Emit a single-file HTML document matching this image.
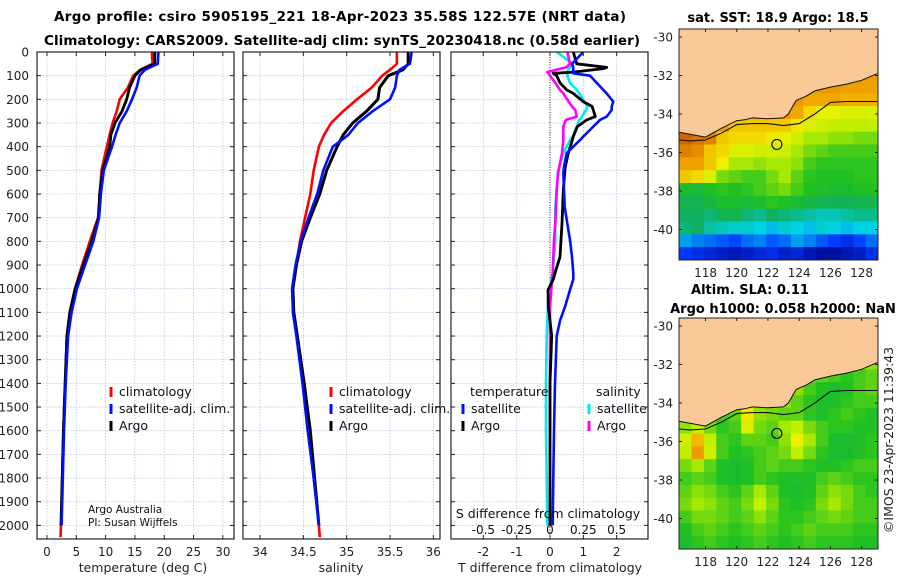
<!DOCTYPE html>
<html><head><meta charset="utf-8"><style>
body{margin:0;background:#fff;}
svg{display:block;font-family:"DejaVu Sans","Liberation Sans",sans-serif;}
</style></head><body>
<svg id="fig" width="900" height="580" viewBox="0 0 900 580" xmlns="http://www.w3.org/2000/svg">
<text x="340" y="21" font-size="13.5" font-weight="bold" text-anchor="middle" textLength="572">Argo profile: csiro 5905195_221 18-Apr-2023 35.58S 122.57E (NRT data)</text>
<text x="342" y="45" font-size="13.5" font-weight="bold" text-anchor="middle" textLength="596">Climatology: CARS2009. Satellite-adj clim: synTS_20230418.nc (0.58d earlier)</text>
<text x="778" y="22" font-size="13" font-weight="bold" text-anchor="middle">sat. SST: 18.9 Argo: 18.5</text>
<text x="750" y="294" font-size="13" font-weight="bold" text-anchor="middle">Altim. SLA: 0.11</text>
<text x="783" y="313" font-size="13" font-weight="bold" text-anchor="middle">Argo h1000: 0.058 h2000: NaN</text>
<text x="0" y="0" font-size="12.5" text-anchor="middle" transform="translate(893,440) rotate(-90)" fill="#222">©IMOS 23-Apr-2023 11:39:43</text>
<g id="plots"></g>
</svg>
<script>
// depth levels (dbar)
const depths=[0,50,75,100,150,200,250,300,350,400,500,600,700,800,900,1000,1100,1200,1400,1600,1800,2000];
const tempClim=[17.9,18.0,15.9,14.7,13.8,12.4,11.9,11.2,10.7,10.2,9.3,9.0,8.7,7.3,6.0,4.8,3.9,3.4,3.1,2.8,2.6,2.4];
const tempSat=[19.0,18.9,16.7,15.8,15.3,14.5,13.6,12.4,11.7,11.1,9.7,9.2,8.9,7.9,6.5,5.1,4.2,3.6,3.2,2.9,2.7,2.5];
const tempArgo=[18.4,18.4,16.0,15.0,14.1,13.6,12.8,11.6,10.9,10.7,9.5,9.0,8.8,7.6,6.2,4.8,3.9,3.4,3.1,2.8,2.6,2.4];
const salClim=[35.58,35.58,35.5,35.41,35.29,35.12,34.96,34.82,34.74,34.68,34.62,34.58,34.52,34.46,34.42,34.38,34.39,34.43,34.5,34.56,34.62,34.68];
const salSat=[35.75,35.73,35.61,35.58,35.56,35.5,35.3,35.13,35.02,34.84,34.73,34.66,34.56,34.47,34.41,34.37,34.38,34.42,34.49,34.55,34.62,34.68];
const salArgo=[35.71,35.71,35.65,35.48,35.38,35.36,35.23,35.07,34.96,34.89,34.77,34.69,34.58,34.48,34.42,34.38,34.39,34.43,34.51,34.58,34.63,34.68];
// difference profiles
const diffDepths=[0,50,65,70,85,90,100,130,160,175,210,230,245,273,287,315,357,372,427,485,511,583,655,724,794,866,934,960,1005,1076,1135,1200,1400,1600,1800,2000];
const dTSat=[1.0,0.66,0.7,0.7,0.7,0.7,1.2,1.4,1.6,1.7,1.9,1.85,1.85,1.7,1.5,1.3,1.0,0.9,0.5,0.42,0.4,0.42,0.44,0.52,0.6,0.66,0.7,0.7,0.6,0.45,0.3,0.2,0.15,0.12,0.1,0.08];
const dTArgo=[0.7,0.8,1.7,1.6,0.7,0.1,0.2,0.3,0.5,0.7,1.0,1.26,1.3,1.36,1.1,0.82,0.7,0.67,0.55,0.46,0.44,0.4,0.38,0.36,0.33,0.3,0.15,0.1,-0.06,-0.05,0.0,0.05,0.0,0.0,0.0,0.0];
const dSSat=[0.05,0.17,0.15,0.14,0.13,0.13,0.13,0.15,0.2,0.22,0.26,0.28,0.27,0.24,0.22,0.2,0.17,0.15,0.1,0.07,0.06,0.05,0.04,0.04,0.04,0.03,0.02,0.01,0.0,-0.015,-0.02,-0.025,-0.03,-0.03,-0.025,-0.02];
const dSArgo=[0.13,0.15,0.12,0.08,-0.02,-0.01,0.0,0.04,0.075,0.1,0.14,0.165,0.19,0.2,0.12,0.1,0.1,0.1,0.09,0.07,0.06,0.05,0.045,0.04,0.03,0.025,0.02,0.015,0.01,0.0,0.0,0.0,0.0,0.0,0.0,0.0];
const depthTicks=[0,100,200,300,400,500,600,700,800,900,1000,1100,1200,1300,1400,1500,1600,1700,1800,1900,2000];
const tempTicks=[0,5,10,15,20,25,30];
const salTicks=[34,34.5,35,35.5,36];
const salTickLabels=["34","34.5","35","35.5","36"];
const dTTicks=[-2,-1,0,1,2];
const dSTicks=[-0.5,-0.25,0,0.25,0.5];
const dSTickLabels=["-0.5","-0.25","0","0.25","0.5"];
// map grids (colour index 0..100), 16 cols x 18 rows
const sstGrid=[
[88,88,88,88,88,88,88,88,88,88,88,88,88,88,88,88],
[88,88,88,88,88,88,88,88,88,88,88,88,88,88,88,88],
[88,88,88,88,88,88,88,88,88,88,88,88,88,88,88,88],
[88,88,88,88,88,88,88,88,88,88,88,88,88,88,86,86],
[88,88,88,88,88,88,88,88,88,88,86,86,86,85,85,85],
[88,88,88,88,88,88,88,88,86,86,84,84,84,83,83,83],
[88,88,88,88,86,86,86,86,86,84,78,74,74,72,72,72],
[92,90,88,86,80,80,80,80,80,76,72,70,68,68,68,68],
[94,92,90,80,78,78,78,76,74,70,66,66,64,64,62,62],
[90,88,80,78,72,72,70,70,70,66,62,60,58,58,58,58],
[85,85,80,75,66,66,64,66,66,64,58,56,56,56,56,56],
[80,78,72,62,60,58,58,62,66,60,56,55,55,55,56,56],
[52,50,55,56,55,56,58,60,62,58,55,54,52,52,54,55],
[45,45,48,52,52,50,52,56,54,50,48,45,44,44,45,45],
[42,42,40,44,45,40,38,42,40,38,36,34,34,36,38,38],
[40,42,36,34,32,32,30,28,32,30,28,32,30,28,30,30],
[25,22,20,18,16,20,22,18,20,25,22,18,15,12,16,20],
[14,12,10,8,6,8,10,12,8,10,6,4,4,6,8,12]];
const slaGrid=[
[66,66,66,66,66,66,66,66,66,66,66,66,66,66,66,66],
[66,66,66,66,66,66,66,66,66,66,66,66,66,66,66,66],
[66,66,66,66,66,66,66,66,66,66,66,66,66,66,66,66],
[66,66,66,66,66,66,66,66,66,66,66,66,66,66,64,64],
[66,66,66,66,66,66,66,66,66,66,62,60,58,56,58,60],
[66,66,66,66,66,66,66,66,66,64,58,55,53,55,58,60],
[66,66,66,66,66,72,66,66,64,60,56,53,53,56,58,58],
[62,62,60,58,60,76,64,62,60,60,56,54,56,58,56,54],
[64,68,62,56,58,72,62,60,66,68,62,58,56,56,54,54],
[70,82,68,58,56,60,60,58,64,74,66,58,52,52,54,56],
[68,86,70,58,54,56,58,60,62,68,62,56,52,52,54,56],
[62,66,60,54,52,54,58,60,58,58,56,54,54,56,58,58],
[58,60,58,54,52,54,58,56,54,54,54,58,60,58,56,56],
[60,64,62,58,56,60,66,60,54,52,54,60,64,62,58,56],
[62,66,64,60,58,62,68,62,56,54,56,62,66,62,58,58],
[58,62,62,60,58,60,64,60,56,56,58,60,62,60,58,58],
[54,58,60,58,56,58,60,58,56,58,60,58,58,58,56,56],
[52,56,58,56,54,56,58,56,54,56,58,56,56,56,54,54]];
// coastline & shelf contour (lon, lat)
const coastLon=[116.3,117,118,119,120,120.5,121,122,123,123.3,123.8,124.5,125,126,127,128,129];
const coastLat=[-34.95,-35.05,-35.2,-34.75,-34.35,-34.3,-34.2,-34.25,-34.2,-34.0,-33.3,-33.05,-32.8,-32.6,-32.45,-32.25,-31.9];
const shelfLon=[116.3,117,118,119,120,121,122,123,124,125,126,127,128,129];
const shelfLat=[-35.35,-35.4,-35.35,-35.0,-34.55,-34.5,-34.5,-34.6,-34.5,-34.0,-33.4,-33.35,-33.35,-33.35];
const argoLon=122.57, argoLat=-35.58;
const lonTicks=[118,120,122,124,126,128];
const latTicks=[-30,-32,-34,-36,-38,-40];

const NS='http://www.w3.org/2000/svg';
const root=document.getElementById('plots');
function mk(tag,attrs,parent){const e=document.createElementNS(NS,tag);for(const k in attrs)e.setAttribute(k,attrs[k]);(parent||root).appendChild(e);return e;}
function txt(s,attrs,parent){const e=mk('text',attrs,parent);e.textContent=s;return e;}
const Y0=52, YK=0.2367, YB=539;
const yD=d=>Y0+YK*d;

function panel(name,x0,x1,dmin,dmax){
  const g=mk('g',{});
  
  
  const sx=v=>x0+(v-dmin)/(dmax-dmin)*(x1-x0);
  return {g,sx};
}
function grid(g,x0,x1,xs){
  depthTicks.forEach(d=>{const l=mk('line',{x1:x0,x2:x1,y1:yD(d),y2:yD(d),stroke:'#b8c4e8','stroke-width':0.8,'stroke-dasharray':'1.5,1.5'},g);
    
    mk('line',{x1:x0,x2:x0+4,y1:yD(d),y2:yD(d),stroke:'#222'},g);mk('line',{x1:x1-4,x2:x1,y1:yD(d),y2:yD(d),stroke:'#222'},g);});
  xs.forEach(x=>{const l=mk('line',{x1:x,x2:x,y1:Y0,y2:YB,stroke:'#b8c4e8','stroke-width':0.8,'stroke-dasharray':'1.5,1.5'},g);
    
    mk('line',{x1:x,x2:x,y1:YB,y2:YB-4,stroke:'#222'},g);mk('line',{x1:x,x2:x,y1:Y0,y2:Y0+4,stroke:'#222'},g);});
}
function frame(g,x0,x1){const r=mk('rect',{x:x0,y:Y0,width:x1-x0,height:YB-Y0,fill:'none',stroke:'#222','stroke-width':1.2},g);}
function line(g,xs,ds,sx,col,w,name){
  const pts=xs.map((v,i)=>sx(v).toFixed(1)+','+yD(ds[i]).toFixed(1)).join(' ');
  const p=mk('polyline',{points:pts,fill:'none',stroke:col,'stroke-width':w,'stroke-linejoin':'round'},g);
  
}
function legend(g,x,y,col,label,name){
  const r=mk('rect',{x:x-1.5,y:y-9,width:3,height:10,fill:col},g);
  
  const t=txt(label,{x:x+8,y:y,'font-size':12.5,fill:'#111'},g);
  
}

// Panel 1: temperature
(function(){
  const x0=37,x1=234;const P=panel('temperature-panel',x0,x1,-1.7,31.9);const g=P.g,sx=P.sx;
  grid(g,x0,x1,tempTicks.map(sx));
  line(g,tempClim,depths,sx,'#ff0000',2.6,'temp-climatology-line');
  line(g,tempArgo,depths,sx,'#000',2.8,'temp-argo-line');
  line(g,tempSat,depths,sx,'#0010ff',2.6,'temp-satellite-line');
  line(g,[tempClim[tempClim.length-1],tempClim[tempClim.length-1]-0.1],[2000,2050],sx,'#ff0000',2.6,'temp-climatology-tail');
  frame(g,x0,x1);
  depthTicks.forEach(d=>{const t=txt(String(d),{x:29,y:yD(d)+4.5,'font-size':12,'text-anchor':'end',fill:'#222'},g);});
  tempTicks.forEach(v=>{const t=txt(String(v),{x:sx(v),y:556,'font-size':12,'text-anchor':'middle',fill:'#222'},g);});
  const xl=txt('temperature (deg C)',{x:143,y:572,'font-size':12.5,'text-anchor':'middle',fill:'#222'},g);
  legend(g,111,396,'#ff0000','climatology','legend-climatology');
  legend(g,111,413,'#0010ff','satellite-adj. clim.','legend-satellite-adj');
  legend(g,111,430,'#000','Argo','legend-argo');
  const a=txt('Argo Australia',{x:88,y:513,'font-size':10.5,fill:'#111'},g);
  const b=txt('PI: Susan Wijffels',{x:88,y:526,'font-size':10.5,fill:'#111'},g);
})();

// Panel 2: salinity
(function(){
  const x0=243,x1=440;const P=panel('salinity-panel',x0,x1,33.804,36.077);const g=P.g,sx=P.sx;
  grid(g,x0,x1,salTicks.map(sx));
  line(g,salClim.concat([34.69]),depths.concat([2050]),sx,'#ff0000',2.6,'sal-climatology-line');
  line(g,salArgo,depths,sx,'#000',3,'sal-argo-line');
  line(g,salSat,depths,sx,'#0010ff',2.6,'sal-satellite-line');
  frame(g,x0,x1);
  salTicks.forEach((v,i)=>{const t=txt(salTickLabels[i],{x:sx(v),y:556,'font-size':12,'text-anchor':'middle',fill:'#222'},g);});
  const xl=txt('salinity',{x:341,y:572,'font-size':12.5,'text-anchor':'middle',fill:'#222'},g);
  legend(g,331,396,'#ff0000','climatology','legend-climatology');
  legend(g,331,413,'#0010ff','satellite-adj. clim.','legend-satellite-adj');
  legend(g,331,430,'#000','Argo','legend-argo');
})();

// Panel 3: differences
(function(){
  const x0=451,x1=648;const P=panel('difference-panel',x0,x1,-2.97,2.94);const g=P.g,sx=P.sx;
  const sxS=v=>sx(v*4);
  grid(g,x0,x1,dTTicks.map(sx));
  const z=mk('line',{x1:sx(0),x2:sx(0),y1:Y0,y2:YB,stroke:'#333','stroke-width':1,'stroke-dasharray':'1,1.5'},g);
  
  line(g,dSSat,diffDepths,sxS,'#00e8f0',2.6,'sal-diff-satellite-line');
  line(g,dSArgo.slice(0,34),diffDepths.slice(0,34),sxS,'#ff00ff',2.6,'sal-diff-argo-line');
  line(g,dTArgo,diffDepths,sx,'#000',2.8,'temp-diff-argo-line');
  line(g,dTSat,diffDepths,sx,'#0010ff',2.6,'temp-diff-satellite-line');
  frame(g,x0,x1);
  dTTicks.forEach(v=>{const t=txt(String(v),{x:sx(v),y:556,'font-size':12,'text-anchor':'middle',fill:'#222'},g);});
  dSTicks.forEach((v,i)=>{const t=txt(dSTickLabels[i],{x:sxS(v),y:534,'font-size':12,'text-anchor':'middle',fill:'#111'},g);});
  const s=txt('S difference from climatology',{x:548,y:518,'font-size':12.5,'text-anchor':'middle',fill:'#111'},g);
  const xl=txt('T difference from climatology',{x:550,y:572,'font-size':12.5,'text-anchor':'middle',fill:'#222'},g);
  const t1=txt('temperature',{x:470,y:396,'font-size':12.5,fill:'#111'},g);
  const t2=txt('salinity',{x:596,y:396,'font-size':12.5,fill:'#111'},g);
  legend(g,463,413,'#0010ff','satellite','legend-temp-satellite');
  legend(g,463,430,'#000','Argo','legend-temp-argo');
  legend(g,589,413,'#00e8f0','satellite','legend-sal-satellite');
  legend(g,589,430,'#ff00ff','Argo','legend-sal-argo');
})();

// colormap
const stops=[[0,[0,0,130]],[0.15,[0,60,255]],[0.3,[0,210,230]],[0.42,[16,176,96]],[0.55,[32,192,32]],[0.68,[192,240,0]],[0.75,[240,240,0]],[0.85,[240,160,0]],[0.95,[208,96,0]],[1,[160,32,0]]];
function cmap(v){v=Math.max(0,Math.min(1,v/100));for(let i=1;i<stops.length;i++){if(v<=stops[i][0]){const a=stops[i-1],b=stops[i];const t=(v-a[0])/(b[0]-a[0]);const c=a[1].map((x,k)=>Math.round(x+(b[1][k]-x)*t));return 'rgb('+c.join(',')+')';}}return 'rgb(160,32,0)';}

function drawMap(name,top,gridVals){
  const x0=679,x1=878,y1=top+231;
  const g=mk('g',{});
  const lon=v=>x0+(v-116.3)/(129.05-116.3)*(x1-x0);
  const lat=v=>top+8+(-30-v)*19.25;
  const rows=gridVals.length,cols=gridVals[0].length;const cw=(x1-x0)/cols,ch=(y1-top)/rows;
  gridVals.forEach((row,r)=>row.forEach((v,c)=>{const e=mk('rect',{x:(x0+c*cw).toFixed(2),y:(top+r*ch).toFixed(2),width:(cw+0.5).toFixed(2),height:(ch+0.5).toFixed(2),fill:cmap(v)},g);
    }));
  let d='M'+x0+','+top;
  coastLon.forEach((v,i)=>{d+=' L'+lon(v).toFixed(1)+','+lat(coastLat[i]).toFixed(1);});
  d+=' L'+x1+','+top+' Z';
  const land=mk('path',{d:d,fill:'#fbc898',stroke:'none'},g);
  const cl=mk('polyline',{points:coastLon.map((v,i)=>lon(v).toFixed(1)+','+lat(coastLat[i]).toFixed(1)).join(' '),fill:'none',stroke:'#111','stroke-width':1},g);
  
  const sl=mk('polyline',{points:shelfLon.map((v,i)=>lon(v).toFixed(1)+','+lat(shelfLat[i]).toFixed(1)).join(' '),fill:'none',stroke:'#111','stroke-width':1.1},g);
  
  const ci=mk('circle',{cx:lon(argoLon),cy:lat(argoLat),r:5,fill:'none',stroke:'#111','stroke-width':1.2},g);
  
  const fr=mk('rect',{x:x0,y:top,width:x1-x0,height:y1-top,fill:'none',stroke:'#222','stroke-width':1},g);
  lonTicks.forEach(v=>{mk('line',{x1:lon(v),x2:lon(v),y1:y1,y2:y1-3,stroke:'#222'},g);mk('line',{x1:lon(v),x2:lon(v),y1:top,y2:top+3,stroke:'#222'},g);
    const t=txt(String(v),{x:lon(v),y:y1+17,'font-size':12,'text-anchor':'middle',fill:'#222'},g);});
  latTicks.forEach(v=>{mk('line',{x1:x0,x2:x0+3,y1:lat(v),y2:lat(v),stroke:'#222'},g);mk('line',{x1:x1,x2:x1-3,y1:lat(v),y2:lat(v),stroke:'#222'},g);
    const t=txt(String(v),{x:673,y:lat(v)+4.5,'font-size':12,'text-anchor':'end',fill:'#222'},g);});
}
drawMap('sst-map',29,sstGrid);
drawMap('sla-map',318,slaGrid);
</script>
</body></html>
